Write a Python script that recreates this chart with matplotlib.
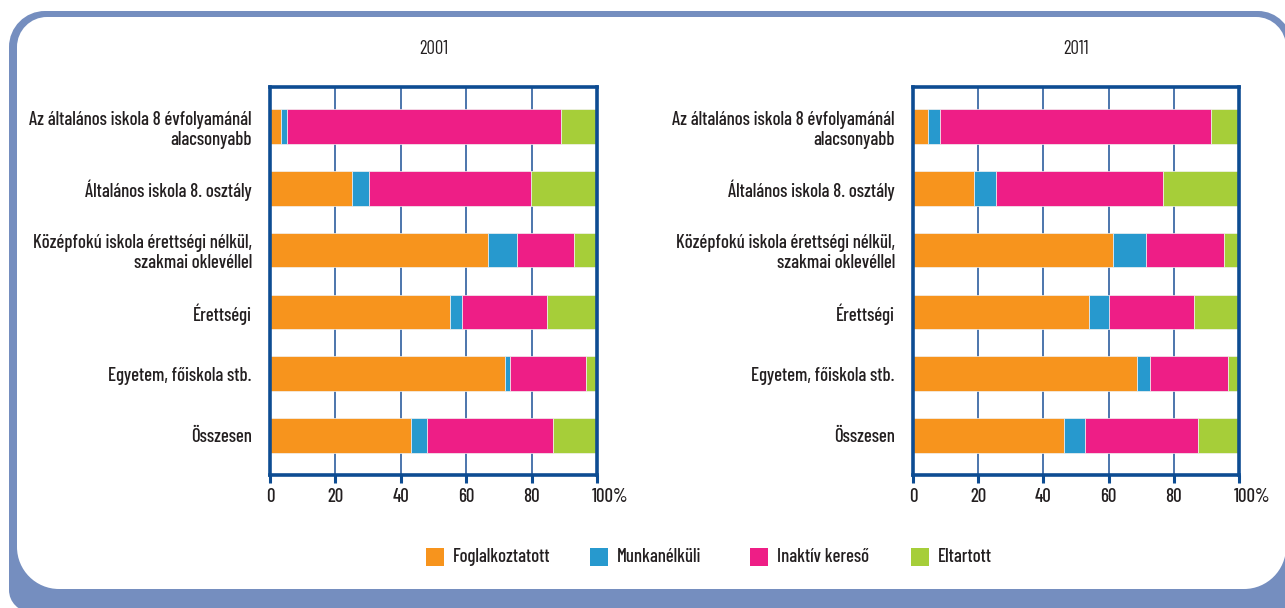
import matplotlib
matplotlib.use("Agg")
import matplotlib.pyplot as plt
from matplotlib import font_manager as fm
from matplotlib.path import Path
from matplotlib.patches import PathPatch, Rectangle
from matplotlib.transforms import IdentityTransform, ScaledTranslation

# ---------------- data ----------------
categories = [
    "Az általános iskola 8 évfolyamánál\nalacsonyabb",
    "Általános iskola 8. osztály",
    "Középfokú iskola érettségi nélkül,\nszakmai oklevéllel",
    "Érettségi",
    "Egyetem, főiskola stb.",
    "Összesen",
]
series_names = ["Foglalkoztatott", "Munkanélküli", "Inaktív kereső", "Eltartott"]
years = ["2001", "2011"]

foglalkoztatott_2001 = [3.3, 25.1, 66.8, 55.0, 71.9, 43.2]
munkanelkuli_2001 = [2.0, 5.3, 8.6, 3.8, 1.5, 4.7]
inaktiv_2001 = [83.6, 49.4, 17.5, 26.0, 23.3, 38.5]
eltartott_2001 = [11.1, 20.2, 7.1, 15.2, 3.3, 13.6]

foglalkoztatott_2011 = [4.5, 18.6, 61.4, 53.9, 68.8, 46.2]
munkanelkuli_2011 = [3.8, 6.9, 10.1, 6.2, 3.9, 6.6]
inaktiv_2011 = [83.0, 51.1, 23.9, 26.1, 23.9, 34.7]
eltartott_2011 = [8.7, 23.4, 4.6, 13.8, 3.4, 12.5]

x_ticks = [0, 20, 40, 60, 80, 100]
x_tick_labels = ["0", "20", "40", "60", "80", "100%"]

# ---------------- style ----------------
colors = ["#F7941D", "#2799CE", "#EE1E86", "#A6CE39"]
spine_col = "#0D4C92"
grid_col = "#1B4F96"
frame_col = "#758EBF"
text_col = "#231F20"

available = {f.name for f in fm.fontManager.ttflist}
candidates = ["Barlow Condensed", "Roboto Condensed", "Sofia Sans Semi Condensed",
              "Fira Sans Condensed", "Liberation Sans Narrow", "Liberation Sans"]
chosen = [c for c in candidates if c in available][:1]
plt.rcParams["font.family"] = chosen + ["DejaVu Sans"]
plt.rcParams["font.weight"] = "medium"

W, H = 1285, 608
fig = plt.figure(figsize=(W / 100, H / 100), dpi=100)
fig.patch.set_facecolor("white")


def rounded_path(x0, y0, x1, y1, r_tl, r_tr, r_br, r_bl):
    k = 0.5523
    verts, codes = [], []
    verts.append((x0 + r_bl, y0)); codes.append(Path.MOVETO)
    verts.append((x1 - r_br, y0)); codes.append(Path.LINETO)
    verts += [(x1 - r_br + k * r_br, y0), (x1, y0 + r_br - k * r_br), (x1, y0 + r_br)]
    codes += [Path.CURVE4] * 3
    verts.append((x1, y1 - r_tr)); codes.append(Path.LINETO)
    verts += [(x1, y1 - r_tr + k * r_tr), (x1 - r_tr + k * r_tr, y1), (x1 - r_tr, y1)]
    codes += [Path.CURVE4] * 3
    verts.append((x0 + r_tl, y1)); codes.append(Path.LINETO)
    verts += [(x0 + r_tl - k * r_tl, y1), (x0, y1 - r_tl + k * r_tl), (x0, y1 - r_tl)]
    codes += [Path.CURVE4] * 3
    verts.append((x0, y0 + r_bl)); codes.append(Path.LINETO)
    verts += [(x0, y0 + r_bl - k * r_bl), (x0 + r_bl - k * r_bl, y0), (x0 + r_bl, y0)]
    codes += [Path.CURVE4] * 3
    verts.append((x0 + r_bl, y0)); codes.append(Path.CLOSEPOLY)
    return Path(verts, codes)


def ty(y_top):
    return H - y_top


outer = rounded_path(9, ty(612), 1292, ty(11), 36, 34, 0, 22)
inner = rounded_path(17, ty(589), 1286, ty(17), 30, 30, 42, 42)
fig.patches.append(PathPatch(outer, transform=IdentityTransform(), facecolor=frame_col,
                             edgecolor="none", zorder=0, figure=fig))
fig.patches.append(PathPatch(inner, transform=IdentityTransform(), facecolor="white",
                             edgecolor="none", zorder=1, figure=fig))

panels = [
    (years[0], [foglalkoztatott_2001, munkanelkuli_2001, inaktiv_2001, eltartott_2001], 270, 597),
    (years[1], [foglalkoztatott_2011, munkanelkuli_2011, inaktiv_2011, eltartott_2011], 913, 1239),
]
ax_top, ax_bot = 87, 475

for year, series, xl, xr in panels:
    ax = fig.add_axes([xl / W, 1 - ax_bot / H, (xr - xl) / W, (ax_bot - ax_top) / H])
    ax.set_zorder(5)
    ax.set_facecolor("white")
    ypos = list(range(len(categories)))
    left = [0.0] * len(categories)
    for vals, col, name in zip(series, colors, series_names):
        ax.barh(ypos, vals, left=left, height=0.556, color=col, edgecolor="#f2f2f2",
                linewidth=0.5, zorder=2, label=name)
        left = [a + b for a, b in zip(left, vals)]
    ax.set_xlim(0, 100)
    ax.set_ylim(5.64, -0.64)
    ax.set_xticks(x_ticks)
    ax.set_xticklabels(x_tick_labels)
    ax.set_yticks(ypos)
    ax.set_yticklabels(categories, fontsize=13.5, color=text_col, linespacing=1.15)
    ax.grid(axis="x", color=grid_col, linewidth=1.1, zorder=1)
    ax.set_axisbelow(True)
    for s in ax.spines.values():
        s.set_color(spine_col)
        s.set_linewidth(2.6)
        s.set_zorder(3)
    ax.tick_params(axis="y", length=0, pad=13)
    ax.tick_params(axis="x", direction="out", length=6, width=2.2, color=spine_col,
                   pad=3, labelsize=13.5, labelcolor=text_col)
    lab = ax.get_xticklabels()[-1]
    lab.set_horizontalalignment("left")
    lab.set_transform(lab.get_transform() + ScaledTranslation(-5 / 100, 0, fig.dpi_scale_trans))
    ax.set_title(year, fontsize=13.5, color=text_col, pad=24)

# legend (manual, to match layout)
leg_x = [426, 590, 750, 911]
for name, col, x in zip(series_names, colors, leg_x):
    fig.patches.append(Rectangle((x, ty(566)), 18, 18, transform=IdentityTransform(),
                                 facecolor=col, edgecolor="none", zorder=2, figure=fig))
    fig.text((x + 27) / W, ty(557) / H, name, fontsize=13.5, color=text_col,
             va="center", ha="left")

fig.savefig("out.png", dpi=100)
